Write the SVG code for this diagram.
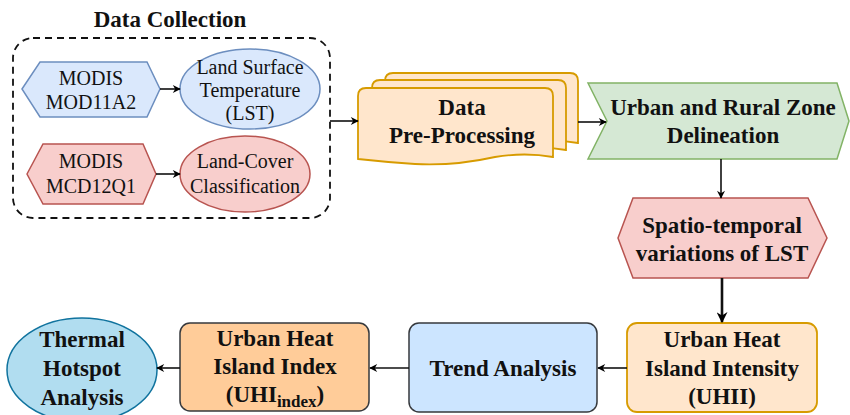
<svg xmlns="http://www.w3.org/2000/svg" width="850" height="415" viewBox="0 0 850 415">
<defs>
<marker id="arr" viewBox="0 0 10 10" refX="9" refY="5" markerWidth="9" markerHeight="8" orient="auto" markerUnits="userSpaceOnUse">
<path d="M0,0 L10,5 L0,10 L3,5 Z" fill="#000"/>
</marker>
<marker id="arr2" viewBox="0 0 10 10" refX="9" refY="5" markerWidth="11" markerHeight="11" orient="auto" markerUnits="userSpaceOnUse">
<path d="M0,0 L10,5 L0,10 L3,5 Z" fill="#000"/>
</marker>
<style>
text{font-family:"Liberation Serif","Times New Roman","DejaVu Serif",serif}
.r{font-size:20px;fill:#111;text-anchor:middle}
.b{font-size:23px;font-weight:bold;fill:#111;text-anchor:middle}
.c{stroke:#111;stroke-width:1.6;fill:none;marker-end:url(#arr)}
.blue{fill:#dae8fc;stroke:#6c8ebf;stroke-width:1.5}
.red{fill:#f8cecc;stroke:#b85450;stroke-width:1.5}
.org{fill:#ffe6cc;stroke:#d79b00;stroke-width:1.8}
</style>
</defs>
<rect width="850" height="415" fill="#fff"/>

<g id="data-collection">
<text class="b" x="170" y="27" font-family="Liberation Serif, serif">Data Collection</text>
<rect x="13" y="38" width="317" height="180" rx="20" fill="none" stroke="#111" stroke-width="1.8" stroke-dasharray="7,5"/>
</g>

<g id="mod11a2">
<polygon class="blue" points="22,89 40,62 147,62 160,89 147,117 40,117"/>
<text class="r" x="91" y="85">MODIS</text>
<text class="r" x="91" y="109">MOD11A2</text>
</g>
<g id="lst">
<ellipse class="blue" cx="250" cy="89" rx="70" ry="40"/>
<text class="r" x="250" y="74">Land Surface</text>
<text class="r" x="250" y="97">Temperature</text>
<text class="r" x="250" y="120">(LST)</text>
</g>
<g id="mcd12q1">
<polygon class="red" points="27,174 43,144 143,144 156,174 143,204 43,204"/>
<text class="r" x="91" y="168">MODIS</text>
<text class="r" x="91" y="193">MCD12Q1</text>
</g>
<g id="landcover">
<ellipse class="red" cx="245" cy="174" rx="65" ry="38"/>
<text class="r" x="245" y="168">Land-Cover</text>
<text class="r" x="245" y="193">Classification</text>
</g>

<g id="preprocessing">
<path class="org" d="M385,81 Q385,73 393,73 L570,73 Q578,73 578,81 L578,143 Q550,138 520,143 Q480,152 440,150 Q410,148 385,145 Z"/>
<path class="org" d="M372,88 Q372,80 380,80 L558,80 Q566,80 566,88 L566,150 Q538,145 508,150 Q468,159 428,157 Q398,155 372,152 Z"/>
<path class="org" d="M358,96 Q358,88 366,88 L545,88 Q553,88 553,96 L553,157 Q525,152 495,157 Q455,166 415,164 Q385,162 358,159 Z"/>
<text class="b" x="462" y="115">Data</text>
<text class="b" x="462" y="143">Pre-Processing</text>
</g>

<g id="delineation">
<polygon points="588,83 837,83 849,121 837,159 588,159 607,121" fill="#d5e8d4" stroke="#82b366" stroke-width="1.5"/>
<text class="b" x="723" y="115">Urban and Rural Zone</text>
<text class="b" x="723" y="143">Delineation</text>
</g>

<g id="spatiotemporal">
<polygon class="red" points="618,238 633,198 808,198 827,238 808,278 633,278"/>
<text class="b" x="722" y="233">Spatio-temporal</text>
<text class="b" x="722" y="261">variations of LST</text>
</g>

<g id="uhii">
<rect class="org" x="627" y="323" width="190" height="89" rx="10"/>
<text class="b" x="722" y="347">Urban Heat</text>
<text class="b" x="722" y="376">Island Intensity</text>
<text class="b" x="722" y="404">(UHII)</text>
</g>

<g id="trend">
<rect x="409" y="323" width="188" height="89" rx="10" fill="#cce5ff" stroke="#36393d" stroke-width="1.5"/>
<text class="b" x="503" y="376">Trend Analysis</text>
</g>

<g id="uhi-index">
<rect x="180" y="323" width="189" height="88" rx="10" fill="#ffcc99" stroke="#36393d" stroke-width="1.5"/>
<text class="b" x="275" y="346">Urban Heat</text>
<text class="b" x="275" y="374">Island Index</text>
<text class="b" x="275" y="402">(UHI<tspan font-size="17" dy="5">index</tspan><tspan dy="-5">)</tspan></text>
</g>

<g id="thermal">
<ellipse cx="82" cy="370" rx="75" ry="52" fill="#b1ddf0" stroke="#10739e" stroke-width="1.5"/>
<text class="b" x="82" y="347">Thermal</text>
<text class="b" x="82" y="376">Hotspot</text>
<text class="b" x="82" y="405">Analysis</text>
</g>

<g id="connectors">
<line class="c" x1="160" y1="89" x2="180" y2="89"/>
<line class="c" x1="156" y1="174" x2="180" y2="174"/>
<line class="c" x1="330" y1="121" x2="358" y2="121"/>
<line class="c" x1="578" y1="122" x2="606" y2="122"/>
<line class="c" x1="721" y1="159" x2="721" y2="198"/>
<line x1="722" y1="278" x2="722" y2="322" stroke="#111" stroke-width="2.6" marker-end="url(#arr2)"/>
<line class="c" x1="627" y1="368" x2="598" y2="368"/>
<line class="c" x1="409" y1="368" x2="370" y2="368"/>
<line class="c" x1="180" y1="368" x2="157" y2="368"/>
</g>
</svg>
